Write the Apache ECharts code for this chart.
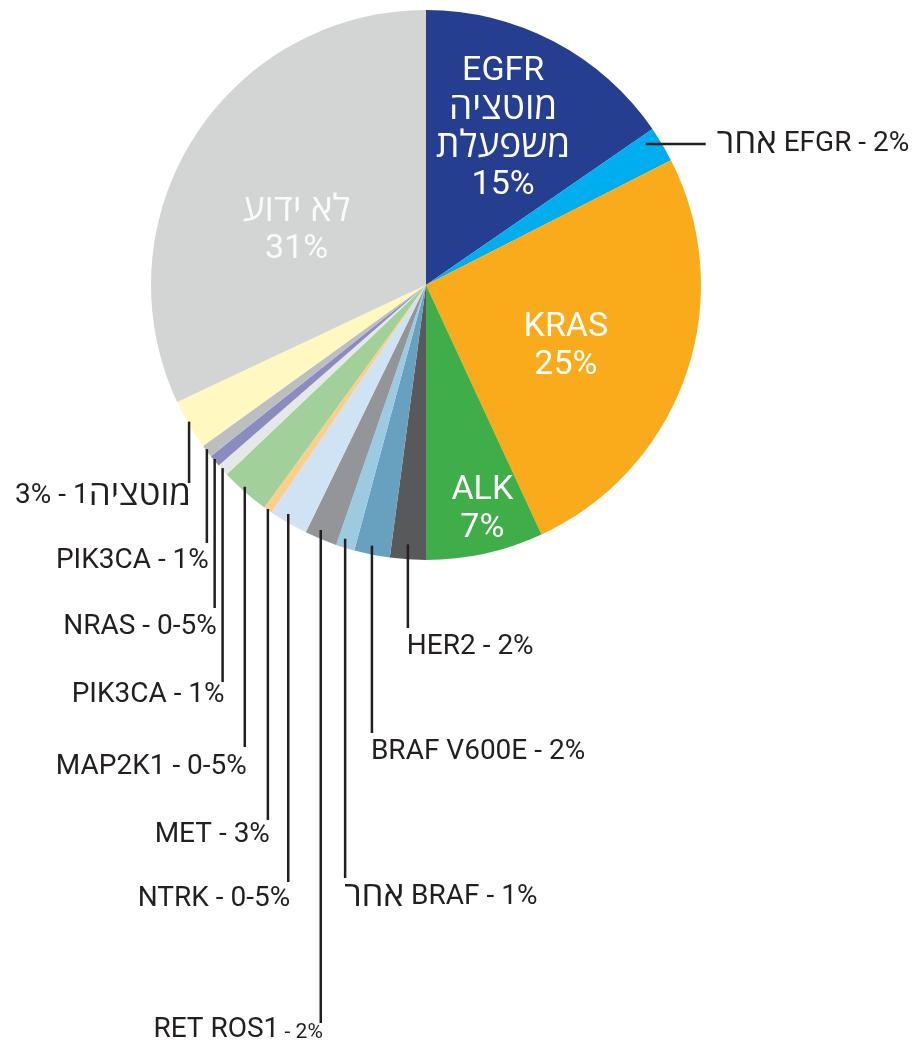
<!DOCTYPE html>
<html><head><meta charset="utf-8">
<script src="https://cdn.jsdelivr.net/npm/echarts@6/dist/echarts.min.js"></script>
<style>html,body{margin:0;padding:0;background:#fff}#chart{width:915px;height:1056px}</style>
</head><body><div id="chart"></div>
<script>
// ---- data (clockwise from 12 o'clock) ----
const categories = ['EGFR', 'EGFR other', 'KRAS', 'ALK', 'HER2', 'BRAF V600E', 'BRAF other', 'RET ROS1',
  'NTRK', 'MET', 'MAP2K1', 'PIK3CA b', 'NRAS', 'PIK3CA a', 'mutation1', 'unknown'];
const values = [15.4, 2.1, 25.6, 6.9, 2.1, 2.1, 1.1, 1.9, 2.3, 0.5, 2.9, 0.7, 0.7, 0.75, 2.95, 32];
// label texts (rich-text tokens: e = big latin, h = big hebrew, t = latin, w = hebrew, s = small)
const labelTexts = [
  '{e|EGFR}\n{h|מוטציה}\n{h|משפעלת}\n{e|15%}',
  '{w|אחר}{t| EFGR - 2%}',
  '{e|KRAS}\n{e|25%}',
  '{e|ALK}\n{e|7%}',
  '{t|HER2 - 2%}',
  '{t|BRAF V600E - 2%}',
  '{w|אחר}{t| BRAF - 1%}',
  '{t|RET ROS1}{s| - 2%}',
  '{t|NTRK - 0-5%}',
  '{t|MET - 3%}',
  '{t|MAP2K1 - 0-5%}',
  '{t|PIK3CA - 1%}',
  '{t|NRAS - 0-5%}',
  '{t|PIK3CA - 1%}',
  '{t|3% - 1}{w|מוטציה}',
  '{h|לא ידוע}\n{e|31%}'
];
const colors = ['#253e8f', '#00aeef', '#f9ab1b', '#3fae49', '#58595b', '#68a0c0', '#9ccae1', '#939598',
  '#cfe3f5', '#fdd08a', '#a2d09a', '#e6e7e8', '#8a8bbf', '#bcbec0', '#fff8c0', '#d3d4d4'];

// ---- layout ----
const CX = 426, CY = 285, R = 275;
const FONT = "Roboto, 'Open Sans', 'Liberation Sans', 'DejaVu Sans', sans-serif";
const INK = '#231f20';
// inside labels: index -> [angle shift (deg) from slice middle, radius ratio]
const insideLabels = {0: [-1.4, 0.633], 2: [4.5, 0.555], 3: [-1.7, 0.84], 15: [-9.7, 0.51]};
// callouts: leader line end y and text centre y
const callouts = {
  1: {side: 'h', textY: 144, len: 60},
  4: {side: 'right', end: 628, textY: 647, inset: 15},
  5: {side: 'right', end: 733, textY: 752, inset: 9},
  6: {side: 'right', end: 878, textY: 897, inset: 9},
  7: {side: 'left', end: 1023, textY: 1030, inset: 9},
  8: {side: 'left', end: 882, textY: 899, inset: 9},
  9: {side: 'left', end: 820, textY: 835, inset: 1},
  10: {side: 'left', end: 747, textY: 767, inset: 5},
  11: {side: 'left', end: 682, textY: 695, inset: 2},
  12: {side: 'left', end: 608, textY: 627, inset: 2},
  13: {side: 'left', end: 543, textY: 561, inset: 2},
  14: {side: 'left', end: 483, textY: 496, inset: 3}
};

const total = values.reduce((a, b) => a + b, 0);
const midAngle = [];
let acc = 0;
values.forEach(v => { midAngle.push((acc + v / 2) / total * 360); acc += v; });
function polar(angleDeg, r) {
  const a = angleDeg * Math.PI / 180;
  return [CX + r * Math.sin(a), CY - r * Math.cos(a)];
}

const innerRich = {
  e: {fontSize: 34, lineHeight: 38, fontFamily: FONT},
  h: {fontSize: 37, lineHeight: 38, fontFamily: FONT}
};
const outerRich = {
  t: {fontSize: 28, lineHeight: 34, fontFamily: FONT, color: INK},
  w: {fontSize: 35, lineHeight: 34, fontFamily: FONT, color: INK},
  s: {fontSize: 21, lineHeight: 28, fontFamily: FONT, color: INK, verticalAlign: 'bottom', padding: [0, 0, 4, 0]}
};

// coloured slices
const sliceData = values.map((v, i) => ({value: v, name: categories[i], itemStyle: {color: colors[i]}}));

// transparent overlay carrying labels and leader lines (drawn above the slices)
const labelData = values.map((v, i) => {
  const inside = !!insideLabels[i];
  const txtColor = i === 15 ? '#fafafa' : '#ffffff';
  return {
    value: v, name: categories[i],
    itemStyle: {color: 'rgba(0,0,0,0)'},
    label: inside ? {
      position: 'inside', formatter: labelTexts[i], color: txtColor,
      rich: {
        e: Object.assign({color: txtColor}, innerRich.e),
        h: Object.assign({color: txtColor}, innerRich.h)
      }
    } : {
      position: 'outside', formatter: labelTexts[i], color: INK,
      fontSize: 28, fontFamily: FONT, width: 500, overflow: 'none',
      rich: outerRich
    },
    labelLine: {show: !inside, smooth: false, lineStyle: {color: INK, width: 2.5}}
  };
});

const common = {
  type: 'pie', center: [CX, CY], radius: [0, R], startAngle: 90, clockwise: true,
  avoidLabelOverlap: false, emphasis: {disabled: true}, silent: true
};

const chart = echarts.init(document.getElementById('chart'), null, {renderer: 'canvas'});
chart.setOption({
  animation: false,
  backgroundColor: '#ffffff',
  series: [
    Object.assign({}, common, {
      z: 2, itemStyle: {borderWidth: 0}, label: {show: false}, labelLine: {show: false}, data: sliceData
    }),
    Object.assign({}, common, {
      z: 5,
      itemStyle: {borderWidth: 0},
      data: labelData,
      labelLayout: function (p) {
        const i = p.dataIndex;
        if (insideLabels[i]) {
          const [d, k] = insideLabels[i];
          const [x, y] = polar(midAngle[i] + d, R * k);
          return {x: x, y: y, align: 'center', verticalAlign: 'middle'};
        }
        const c = callouts[i];
        if (!c) return {};
        if (c.side === 'h') {
          const sx = polar(midAngle[i], R * 0.93)[0];
          const ex = sx + c.len;
          return {
            x: ex + 11, y: c.textY, align: 'left', verticalAlign: 'middle',
            labelLinePoints: [[sx, c.textY], [(sx + ex) / 2, c.textY], [ex, c.textY]]
          };
        }
        const edge = polar(midAngle[i], R);
        const lx = edge[0];
        const top = edge[1] - c.inset;
        const pts = [[lx, top], [lx, (top + c.end) / 2], [lx, c.end]];
        if (c.side === 'left') {
          return {x: lx + 2, y: c.textY, align: 'right', verticalAlign: 'middle', labelLinePoints: pts};
        }
        return {x: lx - 1, y: c.textY, align: 'left', verticalAlign: 'middle', labelLinePoints: pts};
      }
    })
  ]
});
</script>
</body></html>
